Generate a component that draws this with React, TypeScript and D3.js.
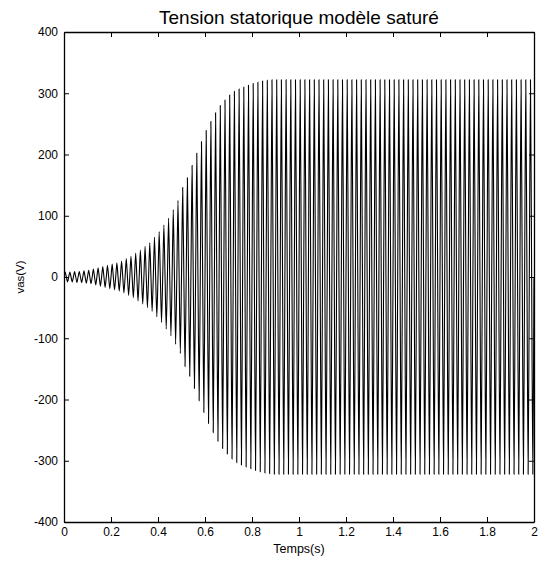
import React, { useRef, useEffect } from "react";
import * as d3 from "d3";

const title = "Tension statorique modèle saturé";
const xLabel = "Temps(s)";
const yLabel = "vas(V)";

// electrical frequency of the stator voltage (Hz), read by counting cycles
const freq = 50;

// peak amplitude (V) of each 20 ms cycle
const cycleAmplitudes = [
  8, 8, 9, 9, 10, 11, 13, 15, 17, 19,
  21, 23, 26, 30, 34, 39, 44, 50, 56, 65,
  74, 85, 96, 110, 125, 146, 162, 182, 202, 221,
  239, 254, 268, 280, 289, 297, 303, 307, 310, 313,
  316, 318, 320, 321, 322, 322, 322, 322, 322, 322,
  322, 322, 322, 322, 322, 322, 322, 322, 322, 322,
  322, 322, 322, 322, 322, 322, 322, 322, 322, 322,
  322, 322, 322, 322, 322, 322, 322, 322, 322, 322,
  322, 322, 322, 322, 322, 322, 322, 322, 322, 322,
  322, 322, 322, 322, 322, 322, 322, 322, 322, 322,
];

const xTicks = [0, 0.2, 0.4, 0.6, 0.8, 1, 1.2, 1.4, 1.6, 1.8, 2];
const yTicks = [-400, -300, -200, -100, 0, 100, 200, 300, 400];

function App() {
  const svgRef = useRef<SVGSVGElement>(null);
  const width = 539;
  const height = 561;
  const marginLeft = 64;
  const marginRight = 5;
  const marginTop = 32;
  const marginBottom = 39;

  useEffect(() => {
    const svg = d3.select(svgRef.current);
    svg.selectAll("*").remove();

    const x = d3.scaleLinear([0, 2], [marginLeft, width - marginRight]);
    const y = d3.scaleLinear([-400, 400], [height - marginBottom, marginTop]);

    // each cycle: zero, +peak, zero, -peak
    const period = 1 / freq;
    const pts: [number, number][] = [];
    cycleAmplitudes.forEach((a, k) => {
      const t0 = k * period;
      pts.push([t0, 0]);
      pts.push([t0 + period / 4, a]);
      pts.push([t0 + period / 2, 0]);
      pts.push([t0 + (3 * period) / 4, -a]);
    });
    pts.push([cycleAmplitudes.length * period, 0]);

    const line = d3.line<[number, number]>()
      .x(d => x(d[0]))
      .y(d => y(d[1]))
      .curve(d3.curveCardinal.tension(0.3));

    svg.append("defs").append("clipPath").attr("id", "plotclip")
      .append("rect")
      .attr("x", marginLeft).attr("y", marginTop)
      .attr("width", width - marginRight - marginLeft)
      .attr("height", height - marginBottom - marginTop);

    svg.append("path")
      .datum(pts)
      .attr("clip-path", "url(#plotclip)")
      .attr("fill", "none")
      .attr("stroke", "black")
      .attr("stroke-width", 1.1)
      .attr("d", line);

    const font = "Liberation Sans, Arial, sans-serif";
    const fmt = (d: d3.NumberValue) => String(d);

    // bottom axis, ticks inside
    svg.append("g")
      .attr("transform", `translate(0,${height - marginBottom})`)
      .call(d3.axisBottom(x).tickValues(xTicks).tickSizeInner(-5).tickSizeOuter(0).tickPadding(5).tickFormat(fmt))
      .call(g => g.selectAll("text").attr("font-size", 12).attr("font-family", font).attr("fill", "black"));
    // top axis, ticks only
    svg.append("g")
      .attr("transform", `translate(0,${marginTop})`)
      .call(d3.axisTop(x).tickValues(xTicks).tickSizeInner(-5).tickSizeOuter(0).tickFormat(() => ""));
    // left axis
    svg.append("g")
      .attr("transform", `translate(${marginLeft},0)`)
      .call(d3.axisLeft(y).tickValues(yTicks).tickSizeInner(-5).tickSizeOuter(0).tickPadding(6).tickFormat(fmt))
      .call(g => g.selectAll("text").attr("font-size", 12).attr("font-family", font).attr("fill", "black"));
    // right axis, ticks only
    svg.append("g")
      .attr("transform", `translate(${width - marginRight},0)`)
      .call(d3.axisRight(y).tickValues(yTicks).tickSizeInner(-5).tickSizeOuter(0).tickFormat(() => ""));

    svg.selectAll(".domain").attr("stroke", "black").attr("stroke-width", 1.3);
    svg.selectAll(".tick line").attr("stroke", "black");

    svg.append("text")
      .attr("x", (marginLeft + width - marginRight) / 2)
      .attr("y", 24)
      .attr("text-anchor", "middle")
      .attr("font-family", font)
      .attr("font-size", 19)
      .text(title);

    svg.append("text")
      .attr("x", (marginLeft + width - marginRight) / 2)
      .attr("y", 553)
      .attr("text-anchor", "middle")
      .attr("font-family", font)
      .attr("font-size", 12.5)
      .text(xLabel);

    svg.append("text")
      .attr("transform", `translate(24,${y(0)}) rotate(-90)`)
      .attr("text-anchor", "middle")
      .attr("font-family", font)
      .attr("font-size", 11.5)
      .text(yLabel);
  }, []);

  return (
    <svg ref={svgRef} width={width} height={height}
      style={{ position: "absolute", left: 0, top: 0, background: "white" }} />
  );
}

export default App;
